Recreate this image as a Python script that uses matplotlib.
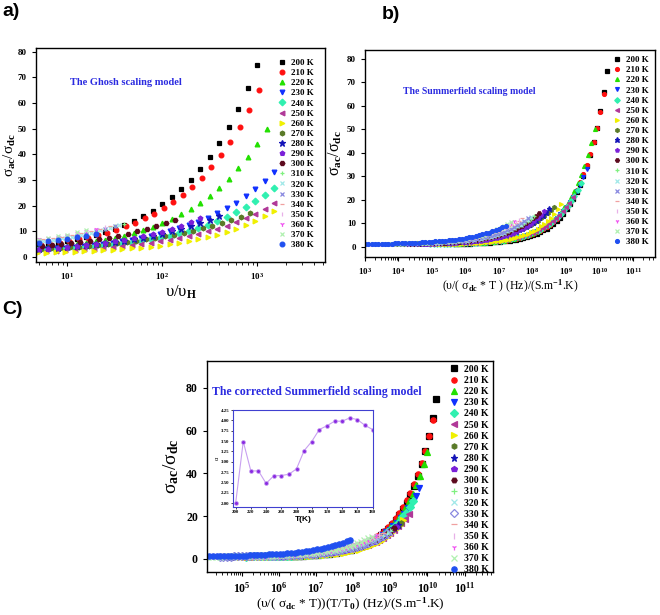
import numpy as np
import matplotlib
matplotlib.use("Agg")
import matplotlib.pyplot as plt
from matplotlib.ticker import FixedLocator, LogLocator, NullFormatter

plt.rcParams['font.family'] = ['Liberation Serif', 'DejaVu Serif']
plt.rcParams['font.weight'] = 'bold'
plt.rcParams['mathtext.fontset'] = 'custom'
plt.rcParams['mathtext.rm'] = 'Liberation Serif:bold'
plt.rcParams['mathtext.bf'] = 'Liberation Serif:bold'
plt.rcParams['mathtext.sf'] = 'Liberation Serif'
plt.rcParams['mathtext.it'] = 'Liberation Serif:italic:bold'

# temperatures (K)
temps = [200, 210, 220, 230, 240, 250, 260, 270, 280, 290,
         300, 310, 320, 330, 340, 350, 360, 370, 380]

# measured frequencies, log10(Hz)
log_freq = [2.0, 2.1, 2.2, 2.3, 2.4, 2.5, 2.6, 2.7, 2.8, 2.9, 3.0, 3.1, 3.2, 3.3, 3.4, 3.5,
            3.6, 3.7, 3.8, 3.9, 4.0, 4.1, 4.2, 4.3, 4.4, 4.5, 4.6, 4.7, 4.8, 4.9, 5.0, 5.1,
            5.2, 5.3, 5.4, 5.5, 5.6, 5.7, 5.8, 5.9, 6.0, 6.1, 6.2, 6.3, 6.4, 6.5]

# sigma_ac / sigma_dc for each temperature
y200 = [1.2, 1.2, 1.2, 1.3, 1.3, 1.4, 1.4, 1.5, 1.5, 1.6, 1.7, 1.8, 1.9, 2.0, 2.2, 2.3, 2.5, 2.8, 3.0, 3.3, 3.6, 4.0, 4.4, 4.9, 5.5, 6.1, 6.9, 7.7, 8.6, 9.7, 11.0, 12.4, 14.0, 15.9, 18.0, 20.5, 23.2, 26.4, 30.1, 34.2, 39.0, 44.4, 50.6, 57.7, 65.8, 75.0]
y210 = [1.2, 1.2, 1.3, 1.3, 1.4, 1.4, 1.5, 1.5, 1.6, 1.7, 1.8, 1.9, 2.0, 2.1, 2.3, 2.4, 2.6, 2.8, 3.1, 3.4, 3.7, 4.1, 4.5, 4.9, 5.5, 6.1, 6.8, 7.5, 8.4, 9.4, 10.6, 11.9, 13.3, 15.0, 16.9, 19.0, 21.5, 24.2, 27.4, 30.9, 35.0, 39.6, 44.8, 50.7, 57.4, 65.0]
y220 = [1.2, 1.2, 1.2, 1.2, 1.3, 1.3, 1.4, 1.4, 1.5, 1.5, 1.6, 1.7, 1.7, 1.9, 2.0, 2.1, 2.2, 2.4, 2.6, 2.8, 3.1, 3.3, 3.7, 4.0, 4.4, 4.9, 5.4, 6.0, 6.7, 7.5, 8.3, 9.3, 10.4, 11.7, 13.2, 14.8, 16.7, 18.8, 21.2, 23.9, 27.0, 30.5, 34.5, 39.0, 44.2, 50.0]
y230 = [1.2, 1.2, 1.2, 1.3, 1.3, 1.3, 1.4, 1.4, 1.5, 1.5, 1.6, 1.6, 1.7, 1.8, 1.9, 2.0, 2.1, 2.3, 2.4, 2.6, 2.8, 3.0, 3.3, 3.5, 3.9, 4.2, 4.6, 5.0, 5.5, 6.1, 6.7, 7.4, 8.2, 9.0, 10.0, 11.1, 12.4, 13.7, 15.3, 17.0, 19.0, 21.2, 23.7, 26.4, 29.5, 33.0]
y240 = [1.1, 1.2, 1.2, 1.2, 1.2, 1.3, 1.3, 1.3, 1.4, 1.4, 1.5, 1.5, 1.6, 1.7, 1.7, 1.8, 1.9, 2.0, 2.2, 2.3, 2.5, 2.6, 2.8, 3.1, 3.3, 3.6, 3.9, 4.3, 4.7, 5.1, 5.6, 6.2, 6.8, 7.5, 8.3, 9.2, 10.2, 11.4, 12.6, 14.0, 15.6, 17.4, 19.4, 21.7, 24.2, 27.0]
y250 = [1.1, 1.1, 1.1, 1.2, 1.2, 1.2, 1.2, 1.3, 1.3, 1.3, 1.4, 1.4, 1.4, 1.5, 1.6, 1.6, 1.7, 1.8, 1.9, 2.0, 2.1, 2.3, 2.4, 2.6, 2.8, 3.0, 3.2, 3.5, 3.8, 4.2, 4.6, 5.0, 5.5, 6.0, 6.6, 7.3, 8.1, 9.0, 9.9, 11.0, 12.2, 13.6, 15.2, 16.9, 18.8, 21.0]
y260 = [1.0, 1.0, 1.1, 1.1, 1.1, 1.1, 1.1, 1.1, 1.1, 1.1, 1.2, 1.2, 1.2, 1.2, 1.3, 1.3, 1.4, 1.4, 1.5, 1.5, 1.6, 1.7, 1.8, 1.9, 2.0, 2.2, 2.3, 2.5, 2.8, 3.0, 3.3, 3.6, 4.0, 4.4, 4.9, 5.5, 6.1, 6.8, 7.7, 8.6, 9.7, 11.0, 12.4, 14.0, 15.9, 18.0]
y270 = [1.3, 1.3, 1.3, 1.3, 1.4, 1.4, 1.4, 1.5, 1.5, 1.6, 1.6, 1.7, 1.8, 1.8, 1.9, 2.0, 2.1, 2.2, 2.3, 2.5, 2.6, 2.8, 2.9, 3.1, 3.3, 3.5, 3.8, 4.0, 4.3, 4.7, 5.0, 5.4, 5.8, 6.3, 6.8, 7.4, 8.0, 8.7, 9.4, 10.2, 11.1, 12.1, 13.1, 14.3, 15.6, 17.0]
y280 = [1.1, 1.2, 1.2, 1.2, 1.2, 1.2, 1.3, 1.3, 1.3, 1.4, 1.4, 1.4, 1.5, 1.5, 1.6, 1.7, 1.7, 1.8, 1.9, 2.0, 2.1, 2.2, 2.4, 2.5, 2.7, 2.9, 3.1, 3.3, 3.6, 3.9, 4.2, 4.5, 4.9, 5.3, 5.8, 6.3, 6.9, 7.5, 8.3, 9.1, 9.9, 10.9, 12.0, 13.2, 14.5, 16.0]
y290 = [1.1, 1.1, 1.1, 1.1, 1.1, 1.1, 1.2, 1.2, 1.2, 1.2, 1.2, 1.3, 1.3, 1.4, 1.4, 1.4, 1.5, 1.6, 1.6, 1.7, 1.8, 1.9, 2.0, 2.1, 2.2, 2.4, 2.6, 2.8, 3.0, 3.2, 3.5, 3.8, 4.1, 4.5, 4.9, 5.4, 6.0, 6.6, 7.3, 8.0, 8.9, 9.8, 10.9, 12.1, 13.5, 15.0]
y300 = [1.1, 1.1, 1.2, 1.2, 1.2, 1.2, 1.2, 1.3, 1.3, 1.3, 1.4, 1.4, 1.4, 1.5, 1.5, 1.6, 1.7, 1.7, 1.8, 1.9, 2.0, 2.1, 2.2, 2.4, 2.5, 2.7, 2.9, 3.1, 3.3, 3.6, 3.9, 4.2, 4.5, 4.9, 5.3, 5.8, 6.3, 6.9, 7.5, 8.3, 9.0, 9.9, 10.9, 12.0, 13.2, 14.5]
y310 = [1.2, 1.2, 1.2, 1.3, 1.3, 1.3, 1.3, 1.4, 1.4, 1.4, 1.5, 1.5, 1.6, 1.6, 1.7, 1.8, 1.8, 1.9, 2.0, 2.1, 2.2, 2.3, 2.4, 2.6, 2.7, 2.9, 3.1, 3.3, 3.5, 3.7, 4.0, 4.3, 4.6, 5.0, 5.4, 5.8, 6.2, 6.7, 7.3, 7.9, 8.6, 9.3, 10.1, 11.0, 11.9, 13.0]
y320 = [1.1, 1.1, 1.1, 1.1, 1.2, 1.2, 1.2, 1.2, 1.2, 1.3, 1.3, 1.3, 1.4, 1.4, 1.5, 1.5, 1.6, 1.6, 1.7, 1.8, 1.9, 2.0, 2.1, 2.2, 2.3, 2.4, 2.6, 2.8, 3.0, 3.2, 3.4, 3.7, 4.0, 4.3, 4.7, 5.1, 5.5, 6.0, 6.6, 7.2, 7.9, 8.6, 9.4, 10.3, 11.4, 12.5]
y330 = [1.1, 1.1, 1.1, 1.1, 1.2, 1.2, 1.2, 1.2, 1.2, 1.3, 1.3, 1.3, 1.4, 1.4, 1.4, 1.5, 1.5, 1.6, 1.7, 1.7, 1.8, 1.9, 2.0, 2.1, 2.2, 2.4, 2.5, 2.7, 2.9, 3.1, 3.3, 3.6, 3.9, 4.2, 4.5, 4.9, 5.3, 5.8, 6.3, 6.9, 7.6, 8.3, 9.1, 9.9, 10.9, 12.0]
y340 = [1.2, 1.2, 1.2, 1.2, 1.3, 1.3, 1.3, 1.3, 1.4, 1.4, 1.4, 1.5, 1.5, 1.6, 1.6, 1.7, 1.8, 1.8, 1.9, 2.0, 2.1, 2.2, 2.3, 2.4, 2.6, 2.7, 2.9, 3.1, 3.3, 3.5, 3.8, 4.0, 4.3, 4.6, 5.0, 5.4, 5.8, 6.3, 6.8, 7.3, 7.9, 8.6, 9.3, 10.2, 11.0, 12.0]
y350 = [1.2, 1.2, 1.2, 1.2, 1.2, 1.3, 1.3, 1.3, 1.3, 1.4, 1.4, 1.5, 1.5, 1.6, 1.6, 1.7, 1.7, 1.8, 1.9, 2.0, 2.1, 2.2, 2.3, 2.4, 2.5, 2.7, 2.8, 3.0, 3.2, 3.4, 3.6, 3.9, 4.2, 4.5, 4.8, 5.2, 5.6, 6.0, 6.5, 7.0, 7.6, 8.3, 9.0, 9.7, 10.6, 11.5]
y360 = [1.2, 1.2, 1.2, 1.2, 1.2, 1.3, 1.3, 1.3, 1.3, 1.4, 1.4, 1.4, 1.5, 1.5, 1.6, 1.6, 1.7, 1.8, 1.8, 1.9, 2.0, 2.1, 2.2, 2.3, 2.4, 2.6, 2.7, 2.9, 3.1, 3.3, 3.5, 3.8, 4.0, 4.3, 4.6, 5.0, 5.4, 5.8, 6.2, 6.8, 7.3, 7.9, 8.6, 9.3, 10.1, 11.0]
y370 = [1.1, 1.1, 1.1, 1.1, 1.1, 1.2, 1.2, 1.2, 1.2, 1.2, 1.3, 1.3, 1.3, 1.3, 1.4, 1.4, 1.5, 1.5, 1.6, 1.6, 1.7, 1.8, 1.9, 2.0, 2.1, 2.2, 2.3, 2.5, 2.6, 2.8, 3.0, 3.2, 3.5, 3.7, 4.0, 4.4, 4.7, 5.1, 5.6, 6.1, 6.7, 7.3, 8.0, 8.7, 9.6, 10.5]
y380 = [1.1, 1.1, 1.2, 1.2, 1.2, 1.2, 1.2, 1.2, 1.3, 1.3, 1.3, 1.3, 1.4, 1.4, 1.5, 1.5, 1.6, 1.6, 1.7, 1.7, 1.8, 1.9, 2.0, 2.1, 2.2, 2.3, 2.4, 2.5, 2.7, 2.8, 3.0, 3.2, 3.4, 3.6, 3.9, 4.2, 4.5, 4.8, 5.2, 5.6, 6.0, 6.5, 7.1, 7.7, 8.3, 9.0]
ratio = [y200, y210, y220, y230, y240, y250, y260, y270, y280, y290,
         y300, y310, y320, y330, y340, y350, y360, y370, y380]

# scaling factors
log_nu_h = [3.5, 3.48, 3.4, 3.32, 3.32, 3.32, 3.32, 3.57, 3.9, 4.1,
            4.36, 4.9, 4.95, 5.0, 5.05, 5.1, 5.2, 5.3, 5.2]
log_sdc_t = [-3.72, -3.62, -3.35, -3.12, -2.95, -2.7, -2.35, -2.15, -2.0, -1.85,
             -1.7, -1.55, -1.45, -1.35, -1.2, -1.1, -0.95, -0.85, -0.7]
log_t_t0 = [0.02, 0.02, 0.15, 0.16, 0.17, 0.3, 0.5, 0.65, 0.7, 0.8,
            0.9, 0.95, 1.0, 1.05, 1.1, 1.1, 1.15, 1.15, 0.72]

# inset: alpha vs T
alpha = [2.0, 3.49, 2.78, 2.78, 2.48, 2.66, 2.67, 2.70, 2.83, 3.27,
         3.49, 3.78, 3.87, 3.98, 3.98, 4.06, 4.02, 3.88, 3.78]

markers = ['s', 'o', '^', 'v', 'D', '<', '>', 'h', '*', 'p',
           'H', '+', 'x', 'x', '_', '|', '1', 'x', 'o']
colors = ['#000000', '#ff1010', '#22e000', '#1030ff', '#30f0b0', '#b03898', '#f0f000',
          '#5a7a28', '#1414b8', '#7a20d8', '#5c0a1e', '#80f080', '#a0e8e8', '#8888e0',
          '#f0a0a0', '#e8b0e8', '#f050f0', '#b0f0b0', '#2050f0']

lf = np.array(log_freq)
fig = plt.figure(figsize=(6.6, 6.15), dpi=100)

ax_a = fig.add_axes([0.0545, 0.574, 0.438, 0.348])
ax_b = fig.add_axes([0.553, 0.5826, 0.4394, 0.336])
ax_c = fig.add_axes([0.3136, 0.0699, 0.4333, 0.3431])


def draw(ax, panel, ms, legend_fs, spacing, pad):
    for i, t in enumerate(temps):
        if panel == 'a':
            x = 10 ** (lf - log_nu_h[i])
        elif panel == 'b':
            x = 10 ** (lf - log_sdc_t[i])
        else:
            x = 10 ** (lf - log_sdc_t[i] + log_t_t0[i])
        m = markers[i]
        kw = dict(color=colors[i], mec=colors[i])
        if panel == 'c' and t == 330:
            m = 'D'
            kw = dict(mfc='none', mec=colors[i], color=colors[i])
        size = ms * 1.35 if m == '*' else ms
        ax.plot(x, ratio[i], linestyle='none', marker=m, ms=size, mew=0.9,
                label=f'{t} K', **kw)
    ax.set_xscale('log')
    ax.legend(loc='upper right', frameon=False, fontsize=legend_fs,
              handlelength=0.9, handletextpad=0.6, labelspacing=spacing,
              borderaxespad=pad, borderpad=0.3)
    ax.tick_params(which='both', direction='out', labelsize=6.5)
    ax.tick_params(which='major', length=3, width=0.8)
    ax.tick_params(which='minor', length=1.8, width=0.6)
    ax.xaxis.set_minor_locator(LogLocator(base=10, subs=np.arange(2, 10), numticks=20))
    ax.xaxis.set_minor_formatter(NullFormatter())
    for s in ax.spines.values():
        s.set_linewidth(1.0)


# panel a
draw(ax_a, 'a', 3.4, 6.5, 0.2, 0.9)
ax_a.set_xlim(4.7, 5200)
ax_a.set_ylim(-2, 81.5)
ax_a.yaxis.set_major_locator(FixedLocator(range(0, 81, 10)))
ax_a.set_xlabel('υ/υ$_{\\mathsf{H}}$', fontsize=12, fontweight='normal', labelpad=1)
ax_a.set_ylabel('σ$_{\\mathsf{ac}}$/σ$_{\\mathsf{dc}}$', fontsize=11, fontweight='normal', labelpad=0)
ax_a.text(0.118, 0.84, 'The Ghosh scaling model', transform=ax_a.transAxes,
          color='#2a2ae0', fontsize=7.5, fontweight='bold', va='center')

# panel b
draw(ax_b, 'b', 2.8, 6.5, 0.2, 0.35)
ax_b.set_xlim(1e3, 4.5e11)
ax_b.set_ylim(-4.3, 83.8)
ax_b.yaxis.set_major_locator(FixedLocator(range(0, 81, 10)))
ax_b.xaxis.set_major_locator(LogLocator(base=10, numticks=20))
ax_b.set_xlabel('(υ/( σ$_{\\mathbf{dc}}$ * T ) (Hz)/(S.m$^{\\mathbf{-1}}$.K)', fontsize=8.5, labelpad=1)
ax_b.set_ylabel('σ$_{\\mathbf{ac}}$/σ$_{\\mathbf{dc}}$', fontsize=11.5, labelpad=2)
ax_b.text(0.131, 0.80, 'The Summerfield scaling model', transform=ax_b.transAxes,
          color='#2a2ae0', fontsize=7, fontweight='bold', va='center')

# panel c
draw(ax_c, 'c', 3.8, 7.0, 0.22, 0.1)
ax_c.set_xlim(1.15e4, 5.8e11)
ax_c.set_ylim(-6.1, 92.6)
ax_c.yaxis.set_major_locator(FixedLocator(range(0, 81, 20)))
ax_c.xaxis.set_major_locator(LogLocator(base=10, numticks=20))
ax_c.tick_params(which='both', labelsize=8.5)
ax_c.set_xlabel('(υ/( σ$_{\\mathbf{dc}}$ * T))(T/T$_{\\mathbf{0}}$) (Hz)/(S.m$^{\\mathbf{-1}}$.K)',
                fontsize=9.5, labelpad=0)
ax_c.set_ylabel('σ$_{\\mathbf{ac}}$/σ$_{\\mathbf{dc}}$', fontsize=14, labelpad=4)
ax_c.text(0.019, 0.855, 'The corrected Summerfield scaling model', transform=ax_c.transAxes,
          color='#2a2ae0', fontsize=8.5, fontweight='bold', va='center')

# inset
ax_in = fig.add_axes([0.353, 0.1756, 0.2121, 0.1577])
ax_in.plot(temps, alpha, '-o', color='#c8a0f0', lw=0.8, ms=2.8,
           mfc='#8a2be2', mec='#c8a0f0', mew=0.5)
ax_in.set_xlim(196.5, 380.5)
ax_in.set_ylim(1.91, 4.25)
ax_in.xaxis.set_major_locator(FixedLocator(range(200, 381, 20)))
ax_in.yaxis.set_major_locator(FixedLocator([2.0, 2.25, 2.5, 2.75, 3.0, 3.25, 3.5, 3.75, 4.0, 4.25]))
ax_in.yaxis.set_major_formatter(plt.FormatStrFormatter('%.2f'))
ax_in.tick_params(labelsize=3.5, length=1.5, width=0.5, direction='out', pad=1)
ax_in.set_xlabel('T(K)', fontsize=6, family='Liberation Sans', fontweight='bold', labelpad=1)
ax_in.set_ylabel('α', fontsize=4.5, labelpad=1)
for s in ax_in.spines.values():
    s.set_color('#4040d0')
    s.set_linewidth(0.8)

# panel letters
fig.text(0.004, 0.995, 'a)', fontsize=14, family='Liberation Sans', fontweight='bold', va='top')
fig.text(0.578, 0.99, 'b)', fontsize=14, family='Liberation Sans', fontweight='bold', va='top')
fig.text(0.004, 0.51, 'C)', fontsize=14, family='Liberation Sans', fontweight='bold', va='top')

fig.savefig('out.png', dpi=100)
